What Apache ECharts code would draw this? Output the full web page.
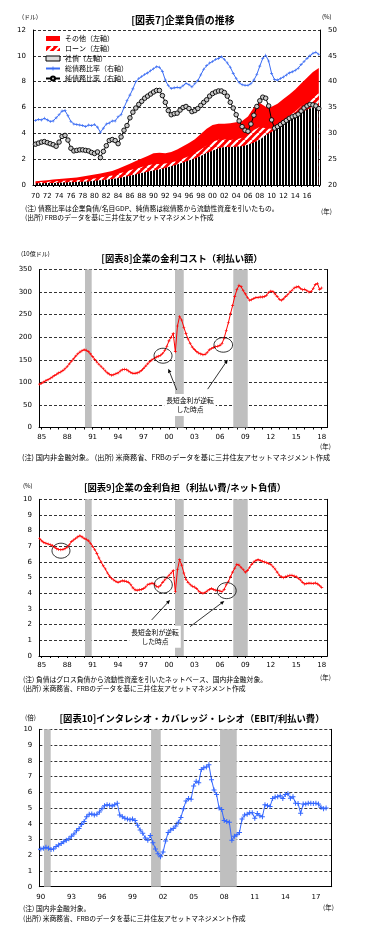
<!DOCTYPE html>
<html><head><meta charset="utf-8">
<script src="https://cdn.jsdelivr.net/npm/echarts@6/dist/echarts.min.js"></script>
<style>html,body{margin:0;padding:0;background:#fff}#c{width:373px;height:935px}</style>
</head><body><div id="c"></div>
<script>
const FONT = '"Noto Sans CJK JP","Noto Sans",sans-serif';
const NUMFONT = '"DejaVu Sans","Noto Sans",sans-serif';

// ---------- 図表7 企業負債の推移 ----------
const c7StackStart = 1970;            // annual, 1970..2018 (兆ドル)
const c7Bonds = [0.13,0.14,0.15,0.16,0.18,0.20,0.22,0.24,0.26,0.28,
  0.32,0.36,0.41,0.46,0.53,0.62,0.72,0.82,0.92,1.03,
  1.12,1.20,1.32,1.45,1.58,1.75,1.90,2.05,2.25,2.48,
  2.65,2.85,2.95,2.95,2.96,3.00,3.12,3.30,3.50,3.85,
  4.10,4.40,4.75,5.05,5.30,5.60,5.85,6.00,6.10];
const c7Loans = [0.09,0.10,0.11,0.12,0.13,0.12,0.12,0.13,0.15,0.18,
  0.19,0.22,0.24,0.27,0.34,0.38,0.43,0.45,0.48,0.49,
  0.48,0.42,0.34,0.30,0.30,0.30,0.32,0.40,0.50,0.57,
  0.70,0.65,0.57,0.53,0.56,0.65,0.78,0.95,1.00,0.55,
  0.25,0.25,0.25,0.30,0.40,0.50,0.60,0.80,1.00];
const c7Other = [0.08,0.09,0.11,0.14,0.16,0.18,0.20,0.22,0.25,0.28,
  0.30,0.32,0.33,0.35,0.38,0.45,0.50,0.58,0.65,0.73,
  0.85,0.88,0.79,0.80,0.87,0.95,1.03,1.10,1.20,1.30,
  1.30,1.25,1.23,1.30,1.33,1.30,1.40,1.75,1.85,1.65,
  1.70,1.65,1.65,1.65,1.70,1.75,1.85,1.95,1.95];
const c7LineStart = 1970;             // semiannual, 1970.0..2018.0 (%)
const c7Gross = [32.5,32.7,32.6,32.9,32.6,32.3,32.4,33.0,33.6,34.3,
  34.4,33.4,32.3,31.8,31.7,31.6,31.5,31.3,31.6,31.5,
  31.7,31.2,30.2,31.0,31.8,32.0,32.4,32.4,33.2,33.6,
  35.0,36.3,37.4,38.6,40.0,40.6,41.0,41.4,41.7,42.1,
  42.5,42.9,42.8,42.0,40.3,39.2,38.7,38.8,38.9,38.8,
  39.2,39.7,39.4,39.0,39.6,40.2,41.3,42.4,43.1,43.6,
  43.9,44.3,44.5,44.8,44.3,43.6,42.8,41.6,40.6,39.8,
  39.4,39.3,39.3,39.6,40.3,41.4,43.0,44.5,45.1,44.0,
  41.6,40.4,40.3,40.6,40.9,41.3,41.7,41.9,42.2,42.6,
  43.3,43.9,44.5,45.0,45.5,45.7,45.3];
const c7Net = [27.9,28.1,28.3,28.4,28.2,28.0,27.8,27.5,28.3,29.4,
  29.6,28.7,27.1,26.6,26.7,26.8,26.8,26.7,26.6,26.3,
  26.1,26.4,25.3,26.5,27.6,28.6,28.8,28.6,28.0,29.3,
  30.6,31.5,33.0,34.1,34.9,35.6,36.2,36.8,37.2,37.6,
  38.0,38.3,38.3,37.3,36.0,34.4,33.6,33.8,33.9,34.5,
  35.0,35.2,34.8,34.2,34.4,34.8,35.4,36.0,36.5,37.2,
  37.7,38.0,38.2,38.2,37.9,37.2,36.0,34.9,33.6,32.4,
  31.3,30.6,30.4,31.8,33.5,35.2,36.3,37.0,36.8,35.3,
  32.6,31.0,31.3,31.7,32.1,32.5,32.9,33.2,33.4,33.7,
  34.3,34.9,35.3,35.6,35.5,35.3,34.8];
const c7Labels = [1970,1972,1974,1976,1978,1980,1982,1984,1986,1988,1990,1992,1994,1996,1998,2000,2002,2004,2006,2008,2010,2012,2014,2016];

// ---------- 図表8 / 図表9 (quarterly from 1984.75) ----------
const c89Start = 1984.75;
const c8Interest = [96,
  98,101,104,106, 109,112,115,118, 121,123,126,130, 135,141,147,152, 158,163,167,170,
  172,171,168,163, 157,151,145,140, 135,130,125,121, 118,116,117,119, 121,125,128,129,
  128,125,122,120, 120,121,123,126, 131,136,141,146, 150,153,156,158, 160,164,170,180,
  192,200,208,168, 225,246,238,222, 208,196,186,178, 173,168,165,163, 161,162,166,172,
  175,177,179,180, 182,186,198,215, 232,252,270,290, 305,315,312,303, 296,288,282,283,
  286,288,288,289, 289,290,293,299, 302,301,296,290, 284,282,285,290, 294,300,304,309,
  311,312,308,305, 306,303,300,301, 308,317,319,306, 309];
const c9Burden = [7.5,
  7.35,7.25,7.2,7.15, 7.1,7.05,6.95,6.85, 6.8,6.78,6.8,6.85, 6.95,7.1,7.3,7.4, 7.5,7.6,7.67,7.6,
  7.5,7.45,7.35,7.2, 7.0,6.8,6.55,6.25, 6.0,5.75,5.55,5.3, 5.1,4.95,4.85,4.75, 4.7,4.75,4.8,4.78,
  4.75,4.7,4.55,4.35, 4.22,4.2,4.22,4.25, 4.3,4.4,4.55,4.6, 4.65,4.6,4.45,4.4, 4.5,4.7,4.85,5.0,
  5.15,5.3,5.45,4.1, 5.5,6.15,5.8,5.3, 4.9,4.7,4.55,4.45, 4.4,4.3,4.15,4.05, 4.0,4.05,4.15,4.25,
  4.3,4.25,4.2,4.2, 4.15,4.1,4.25,4.55, 4.75,5.05,5.35,5.6, 5.85,5.8,5.65,5.5, 5.35,5.45,5.65,5.85,
  6.0,6.1,6.15,6.1, 6.05,6.0,5.95,5.9, 5.85,5.7,5.55,5.35, 5.15,5.05,5.0,5.05, 5.1,5.15,5.15,5.1,
  5.05,4.95,4.85,4.7, 4.6,4.62,4.65,4.64, 4.63,4.66,4.6,4.5, 4.38];
const c89Labels = [1985,1988,1991,1994,1997,2000,2003,2006,2009,2012,2015,2018];
const recessions89 = [[1990.10,1990.89],[2000.71,2001.74],[2007.58,2009.28]];

// ---------- 図表10 (quarterly from 1989.75) ----------
const c10Start = 1989.75;
const c10Coverage = [2.35,
  2.4,2.45,2.5,2.45, 2.37,2.4,2.55,2.65, 2.75,2.85,2.95,3.05, 3.2,3.35,3.55,3.7, 3.95,4.15,4.45,4.6,
  4.62,4.55,4.6,4.75, 4.95,5.15,5.2,5.18, 5.13,5.2,5.3,4.55, 4.45,4.35,4.3,4.25, 4.3,4.2,3.9,3.6,
  3.4,3.1,2.95,3.25, 2.8,2.4,2.1,1.9, 2.2,2.9,3.45,3.6, 3.7,3.85,4.1,4.4, 4.95,5.45,5.6,5.55,
  6.4,6.7,6.6,7.45, 7.55,7.6,7.75,6.8, 6.15,5.85,5.0,4.9, 4.2,4.15,4.1,2.95, 3.2,3.3,3.45,4.3,
  4.55,4.6,4.7,4.7, 4.35,4.65,4.5,4.45, 5.2,5.15,5.1,5.6, 5.7,5.72,5.78,5.6, 5.85,5.9,5.62,5.72,
  5.3,5.28,4.66,5.25, 5.25,5.3,5.3,5.28, 5.3,5.25,5.05,4.95, 5.0];
const c10Labels = [1990,1993,1996,1999,2002,2005,2008,2011,2014,2017];
const recessions10 = [[1990.31,1990.97],[2000.82,2001.77],[2007.59,2009.23]];

// ---------- helpers ----------
const pairs = (start, step, arr) => arr.map((v, i) => [+(start + i * step).toFixed(3), v]);
const yearsBetween = (a, b) => { const r = []; for (let y = a; y <= b; y++) r.push(y); return r; };
const yy = v => String(Math.round(v)).slice(2);
const PLUS = 'path://M4,0H6V4H10V6H6V10H4V6H0V4H4Z';

function makePattern(w, h, draw) {
  const c = document.createElement('canvas'); c.width = w; c.height = h;
  draw(c.getContext('2d')); return { image: c, repeat: 'repeat' };
}
const hatch = makePattern(7, 7, g => {
  g.fillStyle = '#ff0000'; g.fillRect(0, 0, 7, 7);
  g.strokeStyle = '#ffffff'; g.lineWidth = 2.2;
  for (const o of [-7, 0, 7]) { g.beginPath(); g.moveTo(o, 7); g.lineTo(o + 7, 0); g.stroke(); }
});
const stripes = makePattern(3, 3, g => {
  g.fillStyle = '#000'; g.fillRect(0, 0, 3, 3);
  g.fillStyle = '#fff'; g.fillRect(2, 0, 1, 3);
});

// cumulative tops for chart 7
const c7LoanTop = c7Bonds.map((b, i) => +(b + c7Loans[i]).toFixed(3));
const c7Total = c7LoanTop.map((t, i) => +(t + c7Other[i]).toFixed(3));

const chart = echarts.init(document.getElementById('c'), null, { renderer: 'canvas' });

const axLine = { show: true, lineStyle: { color: '#000', width: 1 } };
const split = { show: true, lineStyle: { color: '#000', type: [3, 2], width: 0.8 } };
const lblY = { color: '#000', fontSize: 7, fontFamily: NUMFONT, margin: 7 };

function xAx(gi, min, max, labels, ticks, margin) {
  return {
    type: 'value', gridIndex: gi, min, max,
    axisLine: axLine,
    axisTick: ticks ? { show: true, length: 2, inside: false, lineStyle: { color: '#000' }, customValues: ticks } : { show: false },
    axisLabel: { color: '#000', fontSize: 7, fontFamily: NUMFONT, margin, customValues: labels, formatter: yy },
    splitLine: { show: false }
  };
}
function yAx(gi, min, max, interval, pos, showLabels) {
  return {
    type: 'value', gridIndex: gi, min, max, interval, position: pos,
    axisLine: axLine, axisTick: { show: false },
    axisLabel: showLabels ? lblY : { show: false },
    splitLine: pos === 'left' ? split : { show: false }
  };
}
const markRec = r => ({ silent: true, itemStyle: { color: '#bfbfbf' }, data: r.map(p => [{ xAxis: p[0] }, { xAxis: p[1] }]) });

const T = (x, y, text, size, o = {}) => ({
  type: 'text', x, y, z: 20,
  style: Object.assign({ text, fontSize: size, fontFamily: FONT, fill: '#000', align: 'left', verticalAlign: 'middle' }, o)
});

const NS = 6.8;
const staticTexts = [
  T(183, 20, '[図表7]企業負債の推移', 10, { align: 'center', fontWeight: 'bold' }),
  T(22, 17, '(ドル)', 6),
  T(322, 17, '(%)', 6),
  T(25, 208, '(注) 債務比率は企業負債/名目GDP、純債務は総債務から流動性資産を引いたもの。', NS),
  T(25, 217.5, '(出所) FRBのデータを基に三井住友アセットマネジメント作成', NS),
  T(321, 212, '(年)', 6.5),

  T(182, 258, '[図表8]企業の金利コスト（利払い額）', 9.3, { align: 'center', fontWeight: 'bold' }),
  T(21, 254, '(10億ドル)', 6),
  T(320, 447, '(年)', 6.5),
  T(22, 457.5, '(注) 国内非金融対象。 (出所) 米商務省、FRBのデータを基に三井住友アセットマネジメント作成', 7.2),

  T(185, 487, '[図表9]企業の金利負担（利払い費/ネット負債）', 9.3, { align: 'center', fontWeight: 'bold' }),
  T(23, 485.5, '(%)', 6),
  T(320, 678, '(年)', 6.5),
  T(23, 679.5, '(注) 負債はグロス負債から流動性資産を引いたネットベース、国内非金融対象。', NS),
  T(23, 688.5, '(出所) 米商務省、FRBのデータを基に三井住友アセットマネジメント作成', NS),

  T(192, 718, '[図表10]インタレシオ・カバレッジ・レシオ（EBIT/利払い費）', 9.3, { align: 'center', fontWeight: 'bold' }),
  T(25, 718, '(倍)', 6.5),
  T(323, 908, '(年)', 6.5),
  T(23, 908.5, '(注) 国内非金融対象。', NS),
  T(23, 918.5, '(出所) 米商務省、FRBのデータを基に三井住友アセットマネジメント作成', NS)
];

const option = {
  animation: false,
  backgroundColor: '#fff',
  grid: [
    { left: 33, top: 30, width: 287, height: 155, outerBoundsMode: 'none' },
    { left: 39, top: 269.5, width: 288.3, height: 158, outerBoundsMode: 'none' },
    { left: 39, top: 499.3, width: 288.3, height: 156.7, outerBoundsMode: 'none' },
    { left: 39.3, top: 729.3, width: 292.4, height: 157.4, outerBoundsMode: 'none' }
  ],
  xAxis: [
    xAx(0, 1969.58, 2018.2, c7Labels, yearsBetween(1970, 2018), 8),
    xAx(1, 1984.68, 2018.66, c89Labels, yearsBetween(1985, 2018), 6),
    xAx(2, 1984.68, 2018.66, c89Labels, yearsBetween(1985, 2018), 6),
    xAx(3, 1989.85, 2018.55, c10Labels, null, 7)
  ],
  yAxis: [
    yAx(0, 0, 12, 2, 'left', true),
    Object.assign(yAx(0, 20, 50, 5, 'right', true), { axisLabel: Object.assign({}, lblY, { margin: 8 }) }),
    yAx(1, 0, 350, 50, 'left', true),
    yAx(1, 0, 350, 50, 'right', false),
    yAx(2, 0, 10, 1, 'left', true),
    yAx(2, 0, 10, 1, 'right', false),
    yAx(3, 0, 10, 1, 'left', true),
    yAx(3, 0, 10, 1, 'right', false)
  ],
  legend: {
    orient: 'vertical', left: 45, top: 33.5, itemWidth: 14, itemHeight: 5, itemGap: 0,
    selectedMode: false, padding: 0,
    textStyle: { fontSize: 7, fontFamily: FONT, color: '#000', lineHeight: 10, height: 10 },
    data: [
      { name: 'その他（左軸）', icon: 'rect', itemStyle: { color: '#ff0000' } },
      { name: 'ローン（左軸）', icon: 'rect', itemStyle: { color: hatch } },
      { name: '社債（左軸）', icon: 'rect', itemStyle: { color: '#dcdcdc', borderColor: '#000', borderWidth: 1 } },
      { name: '総債務比率（右軸）' },
      { name: '純債務比率（右軸）' }
    ]
  },
  graphic: staticTexts,
  series: [
    { name: 'その他（左軸）', type: 'line', xAxisIndex: 0, yAxisIndex: 0, data: pairs(c7StackStart, 1, c7Total),
      symbol: 'none', lineStyle: { width: 0 }, itemStyle: { color: '#ff0000' }, areaStyle: { color: '#ff0000', opacity: 1 }, z: 1 },
    { name: 'ローン（左軸）', type: 'line', xAxisIndex: 0, yAxisIndex: 0, data: pairs(c7StackStart, 1, c7LoanTop),
      symbol: 'none', lineStyle: { width: 0 }, itemStyle: { color: hatch }, areaStyle: { color: hatch, opacity: 1 }, z: 1 },
    { name: '社債（左軸）', type: 'line', xAxisIndex: 0, yAxisIndex: 0, data: pairs(c7StackStart, 1, c7Bonds),
      symbol: 'none', lineStyle: { width: 0 }, itemStyle: { color: '#000' }, areaStyle: { color: stripes, opacity: 1 }, z: 1 },
    { name: '総債務比率（右軸）', type: 'line', xAxisIndex: 0, yAxisIndex: 1, data: pairs(c7LineStart, 0.5, c7Gross),
      symbol: PLUS, symbolSize: 3, itemStyle: { color: '#3a6cf4' }, lineStyle: { color: '#3a6cf4', width: 1 }, z: 3 },
    { name: '純債務比率（右軸）', type: 'line', xAxisIndex: 0, yAxisIndex: 1, data: pairs(c7LineStart, 0.5, c7Net),
      symbol: 'circle', symbolSize: 4.5, itemStyle: { color: '#c8c8c8', borderColor: '#000', borderWidth: 0.9 },
      lineStyle: { color: '#000', width: 1 }, z: 4 },

    { name: 'c8', type: 'line', xAxisIndex: 1, yAxisIndex: 2, data: pairs(c89Start, 0.25, c8Interest),
      symbol: PLUS, symbolSize: 3, itemStyle: { color: '#ff0000' }, lineStyle: { color: '#ff0000', width: 1 },
      markArea: markRec(recessions89), z: 3 },
    { name: 'c9', type: 'line', xAxisIndex: 2, yAxisIndex: 4, data: pairs(c89Start, 0.25, c9Burden),
      symbol: PLUS, symbolSize: 3, itemStyle: { color: '#ff0000' }, lineStyle: { color: '#ff0000', width: 1 },
      markArea: markRec(recessions89), z: 3 },
    { name: 'c10', type: 'line', xAxisIndex: 3, yAxisIndex: 6, data: pairs(c10Start, 0.25, c10Coverage),
      symbol: PLUS, symbolSize: 5, itemStyle: { color: '#3366ff' }, lineStyle: { color: '#3366ff', width: 1 },
      markArea: markRec(recessions10), z: 3 }
  ]
};
chart.setOption(option);

// ---------- annotations (placed in data coordinates) ----------
const px = (si, x, y) => chart.convertToPixel({ seriesIndex: si }, [x, y]);
function ellipse(si, x, y, rx, ry) {
  const p = px(si, x, y);
  return { type: 'ellipse', z: 20, shape: { cx: p[0], cy: p[1], rx, ry }, style: { fill: 'none', stroke: '#000', lineWidth: 0.8 } };
}
function arrow(si, tail, head) {
  const a = px(si, tail[0], tail[1]), b = px(si, head[0], head[1]);
  const dx = b[0] - a[0], dy = b[1] - a[1], L = Math.hypot(dx, dy), ux = dx / L, uy = dy / L;
  const hl = 4, hw = 1.8, bx = b[0] - ux * hl, by = b[1] - uy * hl;
  return [
    { type: 'line', z: 20, shape: { x1: a[0], y1: a[1], x2: bx, y2: by }, style: { stroke: '#000', lineWidth: 0.8 } },
    { type: 'polygon', z: 20, shape: { points: [[b[0], b[1]], [bx - uy * hw, by + ux * hw], [bx + uy * hw, by - ux * hw]] }, style: { fill: '#000' } }
  ];
}
function note(si, x, y) {
  const p = px(si, x, y);
  return { type: 'text', x: p[0], y: p[1], z: 25,
    style: { text: '長短金利が逆転\nした時点', fontSize: 6.8, fontFamily: FONT, fill: '#000', align: 'center', verticalAlign: 'middle',
      backgroundColor: '#fff', padding: [2, 2], lineHeight: 9 } };
}
const ann = [].concat(
  ellipse(5, 1999.3, 159, 9, 7.5), ellipse(5, 2006.4, 183, 9.3, 7.3),
  arrow(5, [2000.91, 83], [1999.92, 130]), arrow(5, [2004.56, 85], [2006.92, 150]),
  note(5, 2002.48, 50),
  ellipse(6, 1987.27, 6.72, 9, 7.5), ellipse(6, 1999.33, 4.53, 9, 8), ellipse(6, 2006.8, 4.17, 9.5, 8),
  arrow(6, [1997.96, 2.3], [2000.12, 3.57]), arrow(6, [2002.48, 1.87], [2006.52, 3.51]),
  note(6, 1998.35, 1.23)
);
chart.setOption({ graphic: staticTexts.concat(ann) });
</script></body></html>
